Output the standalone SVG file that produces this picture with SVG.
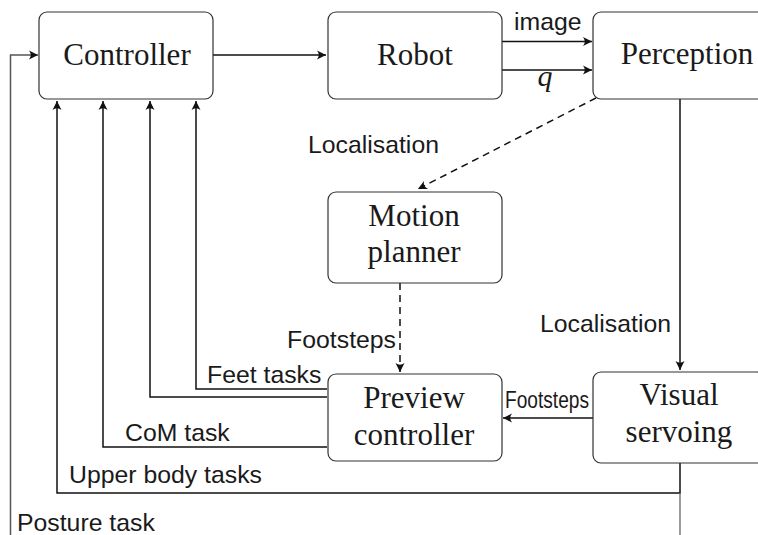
<svg xmlns="http://www.w3.org/2000/svg" width="758" height="535" viewBox="0 0 758 535">
<defs>
<style>
.box{fill:#fff;stroke:#333;stroke-width:1.2}
.ser{font-family:"Liberation Serif","Times New Roman",serif;font-size:31px;fill:#1a1a1a;text-anchor:middle}
.san{font-family:"Liberation Sans",Arial,sans-serif;font-size:24.8px;fill:#1a1a1a}
.ln{fill:none;stroke:#111;stroke-width:1.5}
.dash{stroke-dasharray:7 5}
</style>
<marker id="ah" markerUnits="userSpaceOnUse" markerWidth="14" markerHeight="14" viewBox="-10 -7 14 14" refX="0" refY="0" orient="auto">
<path d="M0,0 L-9,-4.5 Q-5.5,0 -9,4.5 Z" fill="#111"/>
</marker>
</defs>
<rect width="758" height="535" fill="#fff"/>
<g id="connectors">
<path class="ln" d="M213,55 H326" marker-end="url(#ah)"/>
<path class="ln" d="M502,41.5 H592" marker-end="url(#ah)"/>
<path class="ln" d="M502,70 H592" marker-end="url(#ah)"/>
<path class="ln" d="M680,98 V370" marker-end="url(#ah)"/>
<path class="ln dash" d="M596,98 L418,189" marker-end="url(#ah)"/>
<path class="ln dash" d="M400,283 V372" marker-end="url(#ah)"/>
<path class="ln" d="M593,418 H503" marker-end="url(#ah)"/>
<path class="ln" d="M327,389 H196 V101" marker-end="url(#ah)"/>
<path class="ln" d="M327,397 H150 V101" marker-end="url(#ah)"/>
<path class="ln" d="M327,447 H103 V101" marker-end="url(#ah)"/>
<path class="ln" d="M680,463 V493 H57 V101" marker-end="url(#ah)"/>
<path d="M680,493 V535" fill="none" stroke="#666" stroke-width="1.3"/>
<path d="M10.5,535 V55 H38" fill="none" stroke="#555" stroke-width="1.5" marker-end="url(#ah)"/>
<text class="san" x="514" y="30">image</text>
<text x="545" y="86" font-family="Liberation Serif, serif" font-style="italic" font-size="30" fill="#1a1a1a" text-anchor="middle">q</text>
<text class="san" x="308" y="153">Localisation</text>
<text class="san" x="671" y="332" text-anchor="end">Localisation</text>
<text class="san" x="396" y="348" text-anchor="end">Footsteps</text>
<text class="san" x="505" y="408" font-size="18" textLength="84" lengthAdjust="spacingAndGlyphs">Footsteps</text>
<text class="san" x="207" y="383">Feet tasks</text>
<text class="san" x="125" y="441">CoM task</text>
<text class="san" x="69" y="483">Upper body tasks</text>
<text class="san" x="17" y="531">Posture task</text>
</g>
<g id="controller">
<rect class="box" x="39" y="12" width="174" height="87" rx="8"/>
<text class="ser" x="127" y="65">Controller</text>
</g>
<g id="robot">
<rect class="box" x="328" y="12" width="174" height="87" rx="8"/>
<text class="ser" x="415" y="65">Robot</text>
</g>
<g id="perception">
<rect class="box" x="593" y="12" width="188" height="87" rx="8"/>
<text class="ser" x="687" y="64">Perception</text>
</g>
<g id="motion-planner">
<rect class="box" x="328" y="192" width="174" height="91" rx="8"/>
<text class="ser" x="414" y="226">Motion</text>
<text class="ser" x="414" y="262">planner</text>
</g>
<g id="preview-controller">
<rect class="box" x="328" y="374" width="174" height="87" rx="8"/>
<text class="ser" x="414" y="408">Preview</text>
<text class="ser" x="414" y="445">controller</text>
</g>
<g id="visual-servoing">
<rect class="box" x="593" y="372" width="172" height="91" rx="8"/>
<text class="ser" x="679" y="405">Visual</text>
<text class="ser" x="679" y="442">servoing</text>
</g>
</svg>
